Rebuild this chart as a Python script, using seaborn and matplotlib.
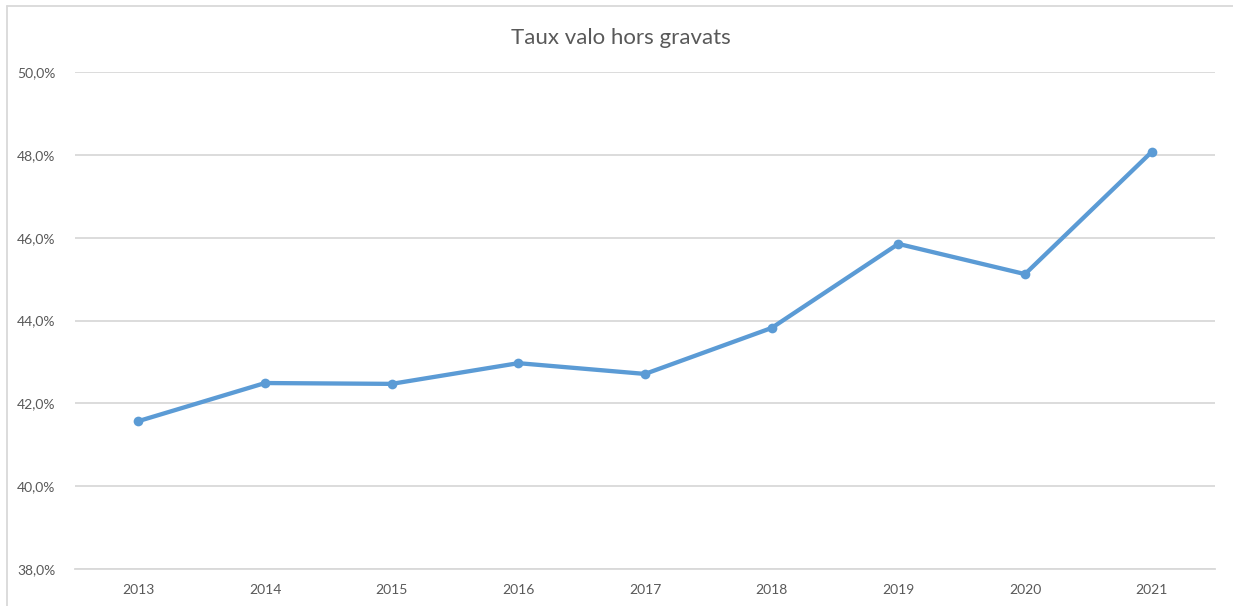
import pandas as pd
import matplotlib.pyplot as plt
import matplotlib.ticker as mticker
from matplotlib.lines import Line2D
import seaborn as sns

# Data
years = ["2013", "2014", "2015", "2016", "2017", "2018", "2019", "2020", "2021"]
taux = [0.4157, 0.4249, 0.4247, 0.4297, 0.4271, 0.4382, 0.4585, 0.4512, 0.4807]
y_ticks = [0.38, 0.40, 0.42, 0.44, 0.46, 0.48, 0.50]

df = pd.DataFrame({"Année": years, "Taux": taux})

sns.set_theme(style="white")
plt.rcParams["font.family"] = ["Lato", "DejaVu Sans"]

grey_txt = "#595959"
grid_col = "#D9D9D9"
blue = "#5B9BD5"

fig = plt.figure(figsize=(12.33, 6.06), dpi=100)
ax = fig.add_axes([75 / 1233, 1 - 569 / 606, (1215 - 75) / 1233, (569 - 72) / 606])

sns.lineplot(data=df, x="Année", y="Taux", ax=ax, color=blue, linewidth=3.1,
             marker="o", markersize=7, markeredgewidth=0, sort=False)

ax.set_xlim(-0.5, len(years) - 0.5)
ax.set_ylim(0.38, 0.50)
ax.set_yticks(y_ticks)
ax.yaxis.set_major_formatter(mticker.FuncFormatter(lambda v, p: f"{v * 100:.1f}%".replace(".", ",")))
ax.grid(axis="y", color=grid_col, linewidth=1.3)
ax.set_axisbelow(True)

for side in ["top", "right", "left"]:
    ax.spines[side].set_visible(False)
ax.spines["bottom"].set_color(grid_col)
ax.spines["bottom"].set_linewidth(1.3)

ax.set_xticks(range(len(years)))
ax.set_xticklabels(years)
ax.set_xticks([i - 0.5 for i in range(len(years) + 1)], minor=True)
ax.tick_params(axis="x", which="major", length=0, pad=11, labelsize=10, labelcolor=grey_txt)
ax.tick_params(axis="x", which="minor", length=5, width=1.3, color=grid_col, direction="out")
ax.tick_params(axis="y", length=0, pad=14, labelsize=10, labelcolor=grey_txt)

ax.set_xlabel("")
ax.set_ylabel("")
fig.text(621 / 1233, 1 - 38 / 606, "Taux valo hors gravats", ha="center", va="center",
         fontsize=16, color=grey_txt)

# chart frame (top and left edges visible in the reference)
fig.add_artist(Line2D([7 / 1233, 1], [1 - 6 / 606, 1 - 6 / 606], transform=fig.transFigure,
                      color=grid_col, linewidth=1.3))
fig.add_artist(Line2D([7 / 1233, 7 / 1233], [0, 1 - 6 / 606], transform=fig.transFigure,
                      color=grid_col, linewidth=1.3))

fig.savefig("out.png", dpi=100)
